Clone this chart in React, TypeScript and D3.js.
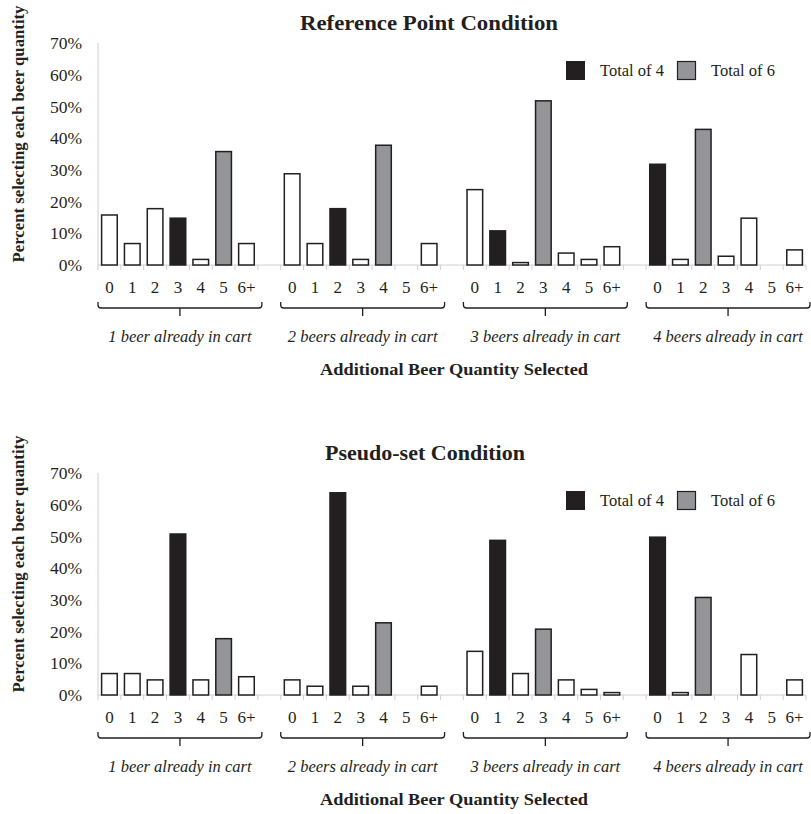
import React from "react";
import * as d3 from "d3";

const quantities = ["0", "1", "2", "3", "4", "5", "6+"];
const groupLabels = [
  "1 beer already in cart",
  "2 beers already in cart",
  "3 beers already in cart",
  "4 beers already in cart",
];
const yTicks = [0, 10, 20, 30, 40, 50, 60, 70];

// Percent selecting each quantity, per group (1..4 beers already in cart)
const referencePoint = [
  [16, 7, 18, 15, 2, 36, 7],
  [29, 7, 18, 2, 38, 0, 7],
  [24, 11, 1, 52, 4, 2, 6],
  [32, 2, 43, 3, 15, 0, 5],
];
const pseudoSet = [
  [7, 7, 5, 51, 5, 18, 6],
  [5, 3, 64, 3, 23, 0, 3],
  [14, 49, 7, 21, 5, 2, 1],
  [50, 1, 31, 0, 13, 0, 5],
];

const panels = [
  { title: "Reference Point Condition", data: referencePoint, titleX: 429, titleLen: 258 },
  { title: "Pseudo-set Condition", data: pseudoSet, titleX: 425, titleLen: 200 },
];

const FONT = "'Liberation Serif', 'Times New Roman', Times, serif";
const BLACK = "#231f20";
const GRAY = "#939598";
const TEXT = "#231f20";

// slot keys: 7 quantities + 1 gap per group, last group without gap
const slots: string[] = [];
groupLabels.forEach((_, g) => {
  quantities.forEach((q) => slots.push(`g${g}-${q}`));
  if (g < groupLabels.length - 1) slots.push(`gap${g}`);
});

function Panel({
  title,
  data,
  top,
  titleX,
  titleLen,
}: {
  title: string;
  data: number[][];
  top: number;
  titleX: number;
  titleLen: number;
}) {
  const x = d3
    .scaleBand<string>()
    .domain(slots)
    .range([98, 806])
    .paddingInner(0.25)
    .paddingOuter(0.125);
  const step = x.step();
  const y = d3.scaleLinear().domain([0, 70]).range([top + 265, top + 43]);
  const y0 = y(0);

  const fillFor = (g: number, qi: number) => {
    const total = g + 1 + qi;
    if (total === 4) return BLACK;
    if (total === 6) return GRAY;
    return "#ffffff";
  };

  const boundaries = d3.range(slots.length + 1).map((k) => 98 + k * step);

  return (
    <g>
      <text
        x={titleX}
        y={top + 30}
        textAnchor="middle"
        fontFamily={FONT}
        fontWeight="bold"
        fontSize={20}
        textLength={titleLen}
        lengthAdjust="spacingAndGlyphs"
        fill={TEXT}
      >
        {title}
      </text>
      <text
        transform={`translate(24, ${top + 134}) rotate(-90)`}
        textAnchor="middle"
        fontFamily={FONT}
        fontWeight="bold"
        fontSize={16.5}
        textLength={257}
        lengthAdjust="spacingAndGlyphs"
        fill={TEXT}
      >
        Percent selecting each beer quantity
      </text>
      {/* y axis */}
      <line x1={98} x2={98} y1={y(70)} y2={y0} stroke="#d0d0d0" strokeWidth={1} />
      {yTicks.map((t) => (
        <text
          key={t}
          x={82}
          y={y(t)}
          dy="0.35em"
          textAnchor="end"
          fontFamily={FONT}
          fontSize={17.5}
          fill={TEXT}
        >
          {`${t}%`}
        </text>
      ))}
      {/* x axis */}
      <line x1={98} x2={806} y1={y0} y2={y0} stroke="#d0d0d0" strokeWidth={1} />
      {boundaries.map((bx, i) => (
        <line key={i} x1={bx} x2={bx} y1={y0} y2={y0 + 5} stroke="#d0d0d0" strokeWidth={1} />
      ))}
      {/* bars */}
      {data.map((vals, g) =>
        vals.map((v, qi) => {
          if (v <= 0) return null;
          const key = `g${g}-${quantities[qi]}`;
          const fill = fillFor(g, qi);
          const bx = x(key)!;
          return (
            <rect
              key={key}
              x={bx + 0.75}
              y={y(v) + 0.75}
              width={x.bandwidth() - 1.5}
              height={y0 - y(v) - 0.75}
              fill={fill}
              stroke={BLACK}
              strokeWidth={1.5}
            />
          );
        })
      )}
      {/* tick labels */}
      {groupLabels.map((_, g) =>
        quantities.map((q) => {
          const key = `g${g}-${q}`;
          return (
            <text
              key={key}
              x={x(key)! + x.bandwidth() / 2}
              y={y0 + 27.5}
              textAnchor="middle"
              fontFamily={FONT}
              fontSize={17}
              fill={TEXT}
            >
              {q}
            </text>
          );
        })
      )}
      {/* brackets */}
      {groupLabels.map((lab, g) => {
        const x1 = 98 + g * 8 * step;
        const x2 = x1 + 7 * step + 4;
        const cx = (x1 + x2) / 2;
        const by = y0 + 43;
        const r = 3;
        const path = `M${x1},${by - 6} L${x1},${by - r} Q${x1},${by} ${x1 + r},${by} L${x2 - r},${by} Q${x2},${by} ${x2},${by - r} L${x2},${by - 6} M${cx},${by} L${cx},${by + 8}`;
        return (
          <g key={lab}>
            <path d={path} fill="none" stroke={TEXT} strokeWidth={1.3} />
            <text
              x={cx}
              y={y0 + 77}
              textAnchor="middle"
              fontFamily={FONT}
              fontStyle="italic"
              fontSize={16.5}
              fill={TEXT}
            >
              {lab}
            </text>
          </g>
        );
      })}
      <text
        x={454}
        y={top + 375}
        textAnchor="middle"
        fontFamily={FONT}
        fontWeight="bold"
        fontSize={17}
        textLength={268}
        lengthAdjust="spacingAndGlyphs"
        fill={TEXT}
      >
        Additional Beer Quantity Selected
      </text>
      {/* legend */}
      <rect x={566} y={top + 61} width={19} height={19} fill={BLACK} />
      <text x={600} y={top + 70.5} dy="0.35em" fontFamily={FONT} fontSize={16.5} fill={TEXT}>
        Total of 4
      </text>
      <rect x={677.5} y={top + 61.5} width={18} height={18} fill={GRAY} stroke={BLACK} strokeWidth={1.2} />
      <text x={711} y={top + 70.5} dy="0.35em" fontFamily={FONT} fontSize={16.5} fill={TEXT}>
        Total of 6
      </text>
    </g>
  );
}

export default function App() {
  return (
    <svg
      width={811}
      height={814}
      viewBox="0 0 811 814"
      style={{ position: "absolute", left: 0, top: 0, background: "#ffffff" }}
    >
      <rect width={811} height={814} fill="#ffffff" />
      {panels.map((p, i) => (
        <Panel
          key={p.title}
          title={p.title}
          data={p.data}
          top={i * 430}
          titleX={p.titleX}
          titleLen={p.titleLen}
        />
      ))}
    </svg>
  );
}
